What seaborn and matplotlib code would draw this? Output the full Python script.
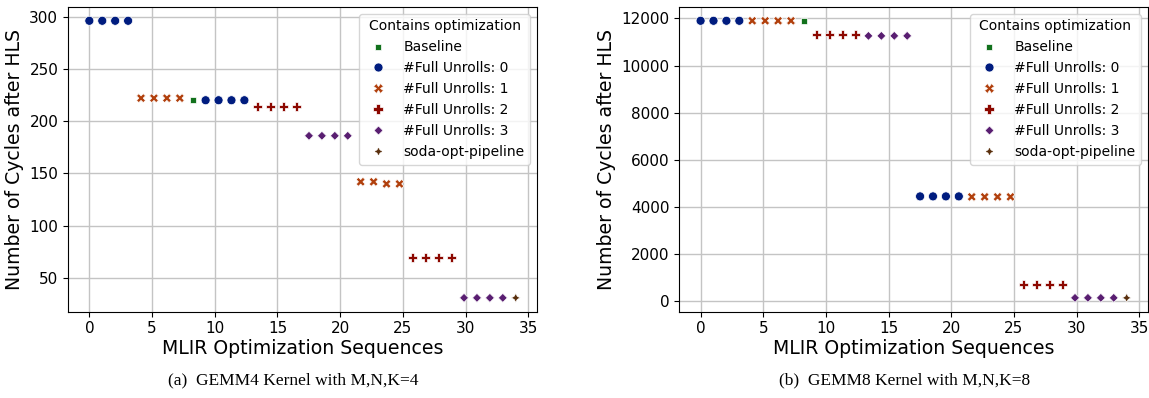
import numpy as np
import pandas as pd
import matplotlib
matplotlib.use("Agg")
import matplotlib.pyplot as plt
import seaborn as sns

# optimization label of each sequence, in plotted order
gemm4_opts = (["#Full Unrolls: 0"] * 4 + ["#Full Unrolls: 1"] * 4 + ["Baseline"]
              + ["#Full Unrolls: 0"] * 4 + ["#Full Unrolls: 2"] * 4 + ["#Full Unrolls: 3"] * 4
              + ["#Full Unrolls: 1"] * 4 + ["#Full Unrolls: 2"] * 4 + ["#Full Unrolls: 3"] * 4
              + ["soda-opt-pipeline"])
gemm4_cycles = [296, 296, 296, 296, 222, 222, 222, 222, 220,
                220, 220, 220, 220, 214, 214, 214, 214, 186, 186, 186, 186,
                142, 142, 140, 140, 70, 70, 70, 70, 31, 31, 31, 31, 31]

gemm8_opts = (["#Full Unrolls: 0"] * 4 + ["#Full Unrolls: 1"] * 4 + ["Baseline"]
              + ["#Full Unrolls: 2"] * 4 + ["#Full Unrolls: 3"] * 4 + ["#Full Unrolls: 0"] * 4
              + ["#Full Unrolls: 1"] * 4 + ["#Full Unrolls: 2"] * 4 + ["#Full Unrolls: 3"] * 4
              + ["soda-opt-pipeline"])
gemm8_cycles = [11900, 11900, 11900, 11900, 11900, 11900, 11900, 11900, 11900,
                11330, 11330, 11330, 11330, 11260, 11260, 11260, 11260,
                4450, 4450, 4450, 4450, 4430, 4430, 4430, 4430,
                710, 710, 710, 710, 145, 145, 145, 145, 145]

legend_order = ["Baseline", "#Full Unrolls: 0", "#Full Unrolls: 1",
                "#Full Unrolls: 2", "#Full Unrolls: 3", "soda-opt-pipeline"]
captions = ["(a)  GEMM4 Kernel with M,N,K=4", "(b)  GEMM8 Kernel with M,N,K=8"]

dark = sns.color_palette("dark")
palette = {"Baseline": dark[2], "#Full Unrolls: 0": dark[0], "#Full Unrolls: 1": dark[1],
           "#Full Unrolls: 2": dark[3], "#Full Unrolls: 3": dark[4], "soda-opt-pipeline": dark[5]}
markers = {"Baseline": (4, 0, 45), "#Full Unrolls: 0": "o", "#Full Unrolls: 1": "X",
           "#Full Unrolls: 2": "P", "#Full Unrolls: 3": (4, 0, 0), "soda-opt-pipeline": (4, 1, 0)}

plt.rcParams["font.size"] = 11

fig = plt.figure(figsize=(11.49, 3.98), dpi=100)
ax1 = fig.add_axes([0.0592, 0.2168, 0.4082, 0.7658])
ax2 = fig.add_axes([0.5912, 0.2168, 0.4079, 0.7658])

for ax, opts, cycles in [(ax1, gemm4_opts, gemm4_cycles), (ax2, gemm8_opts, gemm8_cycles)]:
    df = pd.DataFrame({"opt": opts, "cycles": cycles})
    # sequences are spread evenly over 0..34
    df["seq"] = np.linspace(0, 34, len(df))
    ax.grid(True, color="#c4c4c4", linewidth=1.0)
    ax.set_axisbelow(True)
    sns.scatterplot(data=df, x="seq", y="cycles", hue="opt", style="opt",
                    hue_order=legend_order, style_order=legend_order,
                    palette=palette, markers=markers, s=42, ax=ax)
    ax.set_xlabel("MLIR Optimization Sequences", fontsize=13.6, labelpad=2)
    ax.set_ylabel("Number of Cycles after HLS", fontsize=13.6)
    ax.set_xticks([0, 5, 10, 15, 20, 25, 30, 35])
    ax.legend(title="Contains optimization", loc="upper right", fontsize=10, title_fontsize=10)

fig.text(293 / 1149, 0.043, captions[0], ha="center", va="center",
         family="Liberation Serif", fontsize=12.5)
fig.text(905 / 1149, 0.043, captions[1], ha="center", va="center",
         family="Liberation Serif", fontsize=12.5)

fig.savefig("out.png", dpi=100)
